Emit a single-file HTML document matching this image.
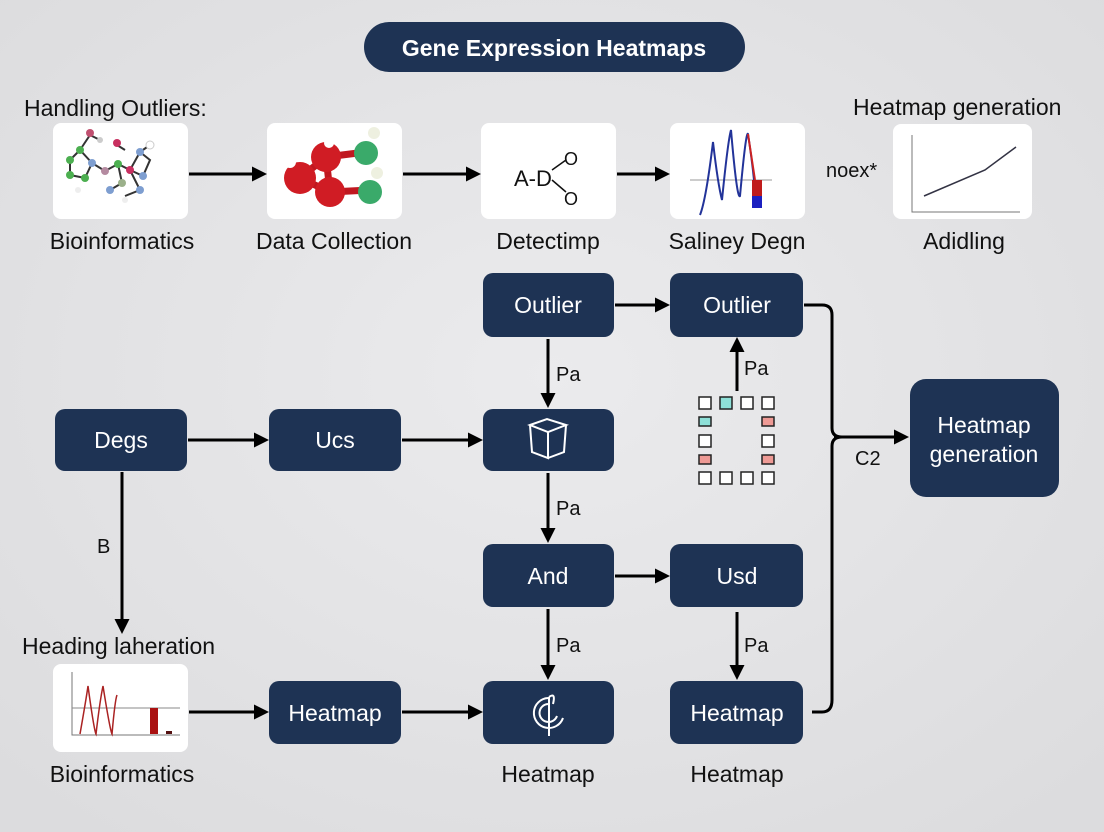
<!DOCTYPE html>
<html><head><meta charset="utf-8"><style>
html,body{margin:0;padding:0;width:1104px;height:832px;overflow:hidden;background:#e4e4e6}
svg{display:block}
text{font-family:"Liberation Sans","DejaVu Sans",sans-serif}
</style></head><body>
<svg width="1104" height="832" viewBox="0 0 1104 832" xmlns="http://www.w3.org/2000/svg">
<defs>
<radialGradient id="bg" cx="50%" cy="45%" r="70%"><stop offset="0" stop-color="#ebebed"/><stop offset="1" stop-color="#dcdcde"/></radialGradient>
<marker id="ah" viewBox="0 0 10 10" refX="8" refY="5" markerWidth="5" markerHeight="5" orient="auto-start-reverse"><path d="M0,0 L10,5 L0,10 z" fill="#000"/></marker>
</defs>
<rect width="1104" height="832" fill="url(#bg)"/>
<!-- title -->
<rect x="364" y="22" width="381" height="50" rx="25" fill="#1e3354"/>
<text x="554" y="56" text-anchor="middle" font-size="23" font-weight="bold" fill="#fff">Gene Expression Heatmaps</text>

<g font-size="23" fill="#111">
<text x="24" y="116">Handling Outliers:</text>
<text x="853" y="115">Heatmap generation</text>
<text x="122" y="249" text-anchor="middle">Bioinformatics</text>
<text x="334" y="249" text-anchor="middle">Data Collection</text>
<text x="548" y="249" text-anchor="middle">Detectimp</text>
<text x="737" y="249" text-anchor="middle">Saliney Degn</text>
<text x="964" y="249" text-anchor="middle">Adidling</text>
<text x="826" y="177" font-size="20">noex*</text>
<text x="22" y="654">Heading laheration</text>
<text x="122" y="782" text-anchor="middle">Bioinformatics</text>
<text x="548" y="782" text-anchor="middle">Heatmap</text>
<text x="737" y="782" text-anchor="middle">Heatmap</text>
</g>

<!-- top image boxes -->
<g fill="#fff">
<rect x="53" y="123" width="135" height="96" rx="8"/>
<rect x="267" y="123" width="135" height="96" rx="8"/>
<rect x="481" y="123" width="135" height="96" rx="8"/>
<rect x="670" y="123" width="135" height="96" rx="8"/>
<rect x="893" y="124" width="139" height="95" rx="8"/>
<rect x="53" y="664" width="135" height="88" rx="8"/>
</g>
<!-- molecule 1 -->
<g stroke="#333" stroke-width="2" fill="none">
<path d="M70,160 L80,150 L92,163 L85,178 L70,175 Z M92,163 L105,171 L118,164 L130,170 L140,152 L150,160 L143,176 L130,170 M118,164 L122,183 L110,190 M130,170 L140,190 L125,196 M80,150 L90,135 L100,140 M117,145 L125,150 M140,152 L150,145"/>
</g>
<g>
<circle cx="70" cy="160" r="4" fill="#4caf50"/><circle cx="80" cy="150" r="4" fill="#4caf50"/><circle cx="92" cy="163" r="4" fill="#7e9ed0"/><circle cx="85" cy="178" r="4" fill="#4caf50"/><circle cx="70" cy="175" r="4" fill="#4caf50"/>
<circle cx="105" cy="171" r="4" fill="#b48aa0"/><circle cx="118" cy="164" r="4" fill="#4caf50"/><circle cx="130" cy="170" r="4" fill="#c83060"/><circle cx="140" cy="152" r="4" fill="#7e9ed0"/><circle cx="143" cy="176" r="4" fill="#7e9ed0"/><circle cx="150" cy="145" r="4" fill="#fff" stroke="#ccc"/>
<circle cx="90" cy="133" r="4" fill="#c05070"/><circle cx="117" cy="143" r="4" fill="#c83060"/><circle cx="100" cy="140" r="3" fill="#ccc"/><circle cx="122" cy="183" r="4" fill="#9bb08a"/><circle cx="110" cy="190" r="4" fill="#7e9ed0"/><circle cx="140" cy="190" r="4" fill="#7e9ed0"/><circle cx="78" cy="190" r="3" fill="#eee"/><circle cx="125" cy="200" r="3" fill="#eee"/>
</g>
<!-- molecule 2 -->
<g stroke="#c01820" stroke-width="7" fill="none"><path d="M300,178 L326,157 L330,192 Z M326,157 L366,152 M330,192 L370,190"/></g>
<circle cx="300" cy="178" r="16" fill="#d01c24"/><circle cx="326" cy="157" r="15" fill="#d01c24"/><circle cx="330" cy="192" r="15" fill="#d01c24"/>
<circle cx="366" cy="153" r="12" fill="#3aaa6a"/><circle cx="370" cy="192" r="12" fill="#3aaa6a"/>
<circle cx="374" cy="133" r="6" fill="#eef0e0"/><circle cx="377" cy="173" r="6" fill="#eef0e0"/><circle cx="290" cy="162" r="6" fill="#fff"/><circle cx="329" cy="143" r="5" fill="#fff"/>
<!-- A-D -->
<text x="514" y="186" font-size="22" fill="#111">A-D</text>
<path d="M552,170 L566,160 M552,180 L566,192" stroke="#111" stroke-width="1.5"/>
<text x="564" y="165" font-size="18" fill="#111">O</text>
<text x="564" y="205" font-size="18" fill="#111">O</text>
<!-- chart saliney -->
<line x1="690" y1="180" x2="772" y2="180" stroke="#999" stroke-width="1"/>
<path d="M700,215 Q706,200 713,142 Q718,185 722,200 Q728,140 731,130 Q737,200 740,196 Q746,130 748,134 Q752,160 754,180" stroke="#223399" stroke-width="2" fill="none"/>
<path d="M748,134 Q752,160 755,180" stroke="#cc2222" stroke-width="2" fill="none"/>
<rect x="752" y="180" width="10" height="16" fill="#c01c1c"/><rect x="752" y="196" width="10" height="12" fill="#1c20c0"/>
<!-- line chart -->
<path d="M912,135 L912,212 L1020,212" stroke="#777" stroke-width="1" fill="none"/>
<path d="M924,196 L985,170 L1016,147" stroke="#334" stroke-width="1.5" fill="none"/>
<!-- bottom chart -->
<path d="M72,672 L72,735 L180,735" stroke="#777" stroke-width="1" fill="none"/>
<line x1="72" y1="708" x2="180" y2="708" stroke="#888"/>
<path d="M80,734 Q86,700 88,686 Q94,730 96,734 Q100,700 103,686 Q110,730 112,734 Q115,700 117,695" stroke="#aa2222" stroke-width="1.5" fill="none"/>
<rect x="150" y="708" width="8" height="26" fill="#aa1111"/><rect x="166" y="731" width="6" height="3" fill="#551111"/>

<!-- dark nodes -->
<g fill="#1e3354">
<rect x="483" y="273" width="131" height="64" rx="10"/>
<rect x="670" y="273" width="133" height="64" rx="10"/>
<rect x="55" y="409" width="132" height="62" rx="10"/>
<rect x="269" y="409" width="132" height="62" rx="10"/>
<rect x="483" y="409" width="131" height="62" rx="10"/>
<rect x="483" y="544" width="131" height="63" rx="10"/>
<rect x="670" y="544" width="133" height="63" rx="10"/>
<rect x="269" y="681" width="132" height="63" rx="10"/>
<rect x="483" y="681" width="131" height="63" rx="10"/>
<rect x="670" y="681" width="133" height="63" rx="10"/>
<rect x="910" y="379" width="149" height="118" rx="16"/>
</g>
<g font-size="23" fill="#fff" text-anchor="middle">
<text x="548" y="313">Outlier</text>
<text x="737" y="313">Outlier</text>
<text x="121" y="448">Degs</text>
<text x="335" y="448">Ucs</text>
<text x="548" y="584">And</text>
<text x="737" y="584">Usd</text>
<text x="335" y="721">Heatmap</text>
<text x="737" y="721">Heatmap</text>
<text x="984" y="433">Heatmap</text>
<text x="984" y="462">generation</text>
</g>
<!-- cube icon -->
<g stroke="#fff" stroke-width="2" fill="none">
<path d="M530,425 L547,419 L566,425 L548,432 Z M530,425 L532,452 L548,458 L548,432 M566,425 L564,452 L548,458"/>
</g>
<!-- spiral icon -->
<g stroke="#fff" stroke-width="2" fill="none">
<path d="M548,698 A15,15 0 1 0 563,718 M548,704 A9,9 0 1 0 557,716 M549,697 L549,736 M549,697 Q556,692 553,704"/>
</g>
<!-- grid -->
<g stroke="#222" stroke-width="1.5" fill="#fff">
<rect x="699" y="397" width="12" height="12"/><rect x="720" y="397" width="12" height="12" fill="#8ee0d8"/><rect x="741" y="397" width="12" height="12"/><rect x="762" y="397" width="12" height="12"/>
<rect x="699" y="417" width="12" height="9" fill="#8ee0d8"/><rect x="762" y="417" width="12" height="9" fill="#ee9a95"/>
<rect x="699" y="435" width="12" height="12"/><rect x="762" y="435" width="12" height="12"/>
<rect x="699" y="455" width="12" height="9" fill="#ee9a95"/><rect x="762" y="455" width="12" height="9" fill="#ee9a95"/>
<rect x="699" y="472" width="12" height="12"/><rect x="720" y="472" width="12" height="12"/><rect x="741" y="472" width="12" height="12"/><rect x="762" y="472" width="12" height="12"/>
</g>

<!-- arrows -->
<g stroke="#000" stroke-width="3" fill="none" marker-end="url(#ah)">
<line x1="189" y1="174" x2="264" y2="174"/>
<line x1="403" y1="174" x2="478" y2="174"/>
<line x1="617" y1="174" x2="667" y2="174"/>
<line x1="615" y1="305" x2="667" y2="305"/>
<line x1="548" y1="339" x2="548" y2="405"/>
<line x1="737" y1="391" x2="737" y2="340"/>
<line x1="188" y1="440" x2="266" y2="440"/>
<line x1="402" y1="440" x2="480" y2="440"/>
<line x1="548" y1="473" x2="548" y2="540"/>
<line x1="615" y1="576" x2="667" y2="576"/>
<line x1="548" y1="609" x2="548" y2="677"/>
<line x1="737" y1="612" x2="737" y2="677"/>
<line x1="122" y1="472" x2="122" y2="631"/>
<line x1="189" y1="712" x2="266" y2="712"/>
<line x1="402" y1="712" x2="480" y2="712"/>
<line x1="834" y1="437" x2="906" y2="437"/>
</g>
<path d="M804,305 L822,305 Q832,305 832,315 L832,428 Q832,437 842,437 M842,437 Q832,437 832,446 L832,700 Q832,712 822,712 L812,712" stroke="#000" stroke-width="3" fill="none"/>
<g font-size="20" fill="#111">
<text x="556" y="381">Pa</text>
<text x="744" y="375">Pa</text>
<text x="556" y="515">Pa</text>
<text x="556" y="652">Pa</text>
<text x="744" y="652">Pa</text>
<text x="97" y="553">B</text>
<text x="855" y="465">C2</text>
</g>
</svg>
</body></html>
